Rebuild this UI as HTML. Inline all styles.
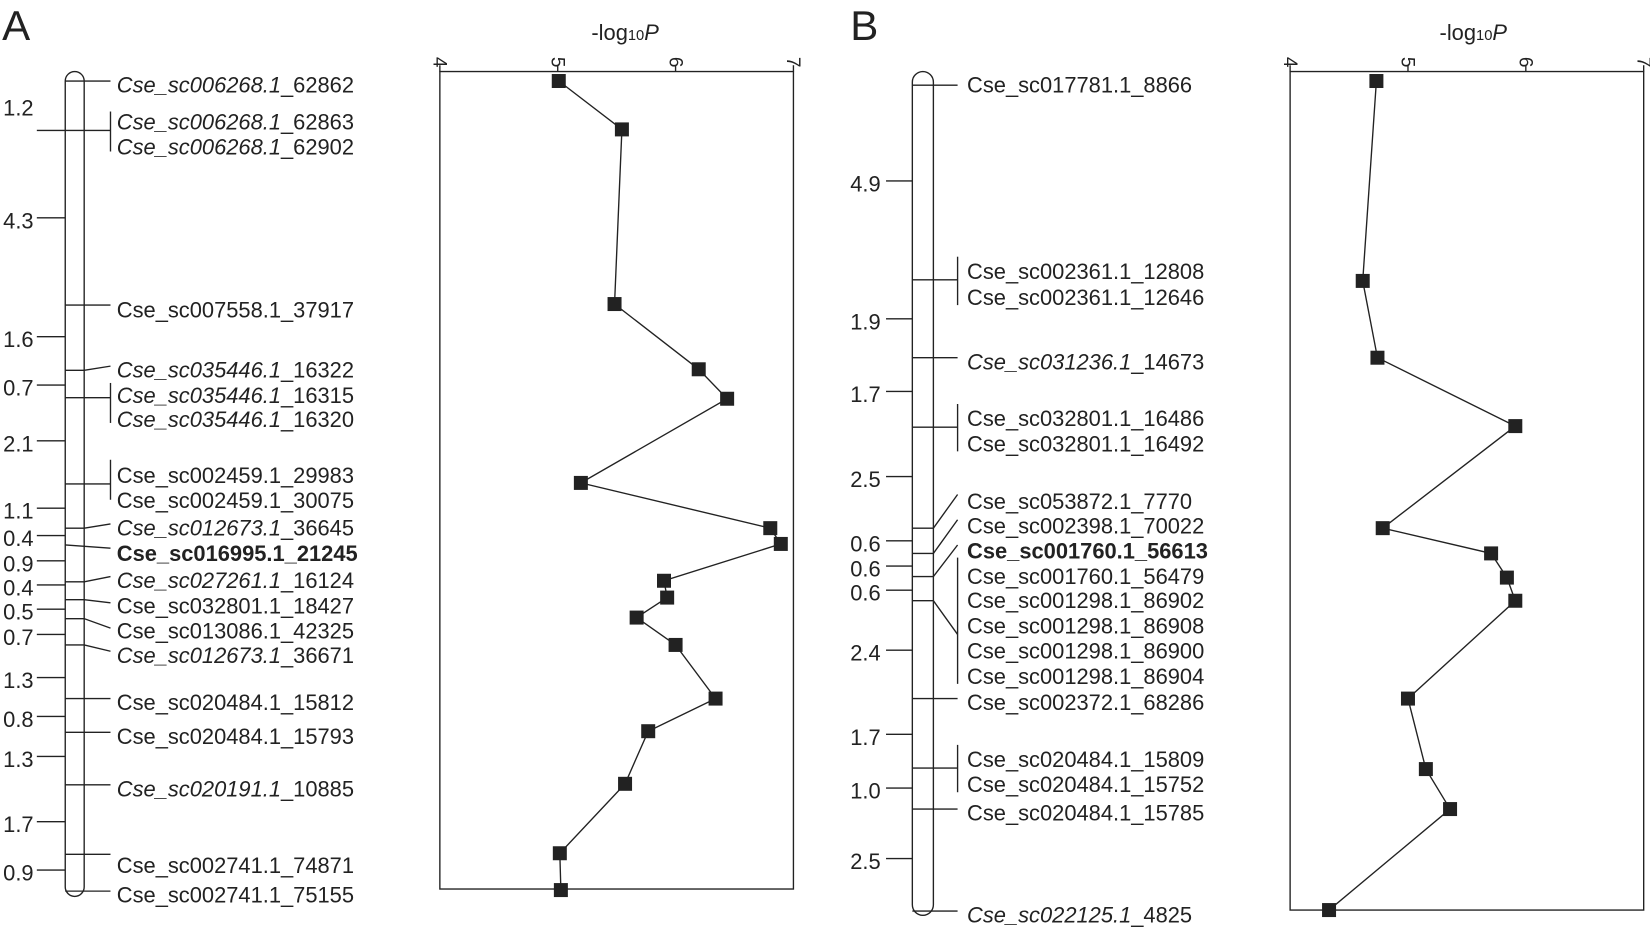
<!DOCTYPE html>
<html><head><meta charset="utf-8"><style>
html,body{margin:0;padding:0;background:#fff}
svg{display:block}
text{font-family:"Liberation Sans",sans-serif;font-size:20.8px;fill:#222}
.i{font-style:italic}
line,polyline,path,rect{stroke:#222;stroke-width:1.3;fill:none}
</style></head><body>
<svg width="1650" height="929" viewBox="0 0 1568 883" preserveAspectRatio="none" xmlns="http://www.w3.org/2000/svg">
<text x="2" y="38" style="font-size:40px">A</text>
<rect x="62" y="68" width="18" height="784" rx="9"/>
<g>
<line x1="35" y1="124" x2="62" y2="124"/><text x="3" y="110">1.2</text>
<line x1="35" y1="207" x2="62" y2="207"/><text x="3" y="217">4.3</text>
<line x1="35" y1="320" x2="62" y2="320"/><text x="3" y="330">1.6</text>
<line x1="35" y1="366" x2="62" y2="366"/><text x="3" y="376">0.7</text>
<line x1="35" y1="419" x2="62" y2="419"/><text x="3" y="429">2.1</text>
<line x1="35" y1="483" x2="62" y2="483"/><text x="3" y="493">1.1</text>
<line x1="35" y1="509" x2="62" y2="509"/><text x="3" y="519">0.4</text>
<line x1="35" y1="533" x2="62" y2="533"/><text x="3" y="543">0.9</text>
<line x1="35" y1="556" x2="62" y2="556"/><text x="3" y="566">0.4</text>
<line x1="35" y1="579" x2="62" y2="579"/><text x="3" y="589">0.5</text>
<line x1="35" y1="603" x2="62" y2="603"/><text x="3" y="613">0.7</text>
<line x1="35" y1="644" x2="62" y2="644"/><text x="3" y="654">1.3</text>
<line x1="35" y1="681" x2="62" y2="681"/><text x="3" y="691">0.8</text>
<line x1="35" y1="719" x2="62" y2="719"/><text x="3" y="729">1.3</text>
<line x1="35" y1="781" x2="62" y2="781"/><text x="3" y="791">1.7</text>
<line x1="35" y1="827" x2="62" y2="827"/><text x="3" y="837">0.9</text>
</g>
<g>
<line x1="62" y1="77" x2="105" y2="77"/>
<line x1="62" y1="124" x2="105" y2="124"/><line x1="105" y1="106" x2="105" y2="144"/>
<line x1="62" y1="290" x2="105" y2="290"/>
<polyline points="62,352 80,352 105,348"/>
<line x1="62" y1="378" x2="105" y2="378"/><line x1="105" y1="364" x2="105" y2="402"/>
<line x1="62" y1="460" x2="105" y2="460"/><line x1="105" y1="437" x2="105" y2="475"/>
<polyline points="62,502 80,502 105,498"/>
<line x1="62" y1="518" x2="105" y2="521"/>
<polyline points="62,553 80,553 105,548"/>
<polyline points="62,570 80,570 105,573"/>
<polyline points="62,588 80,588 105,597"/>
<polyline points="62,613 80,613 105,619"/>
<line x1="62" y1="664" x2="105" y2="664"/>
<line x1="62" y1="696" x2="105" y2="696"/>
<line x1="62" y1="746" x2="105" y2="746"/>
<line x1="62" y1="812" x2="105" y2="812"/>
<line x1="62" y1="847" x2="105" y2="847"/>
</g>
<g>
<text x="111" y="88"><tspan class="i">Cse_sc006268.1</tspan>_62862</text>
<text x="111" y="123"><tspan class="i">Cse_sc006268.1</tspan>_62863</text>
<text x="111" y="147"><tspan class="i">Cse_sc006268.1</tspan>_62902</text>
<text x="111" y="302">Cse_sc007558.1_37917</text>
<text x="111" y="359"><tspan class="i">Cse_sc035446.1</tspan>_16322</text>
<text x="111" y="383"><tspan class="i">Cse_sc035446.1</tspan>_16315</text>
<text x="111" y="406"><tspan class="i">Cse_sc035446.1</tspan>_16320</text>
<text x="111" y="459">Cse_sc002459.1_29983</text>
<text x="111" y="483">Cse_sc002459.1_30075</text>
<text x="111" y="509"><tspan class="i">Cse_sc012673.1</tspan>_36645</text>
<text x="111" y="533" style="font-weight:bold">Cse_sc016995.1_21245</text>
<text x="111" y="559"><tspan class="i">Cse_sc027261.1</tspan>_16124</text>
<text x="111" y="583">Cse_sc032801.1_18427</text>
<text x="111" y="607">Cse_sc013086.1_42325</text>
<text x="111" y="630"><tspan class="i">Cse_sc012673.1</tspan>_36671</text>
<text x="111" y="675">Cse_sc020484.1_15812</text>
<text x="111" y="707">Cse_sc020484.1_15793</text>
<text x="111" y="757"><tspan class="i">Cse_sc020191.1</tspan>_10885</text>
<text x="111" y="830">Cse_sc002741.1_74871</text>
<text x="111" y="858">Cse_sc002741.1_75155</text>
</g>
<text x="562" y="38">-log<tspan style="font-size:14px">10</tspan><tspan class="i">P</tspan></text>
<rect x="418" y="68" width="336" height="777"/>
<g>
<line x1="418" y1="62" x2="418" y2="68"/><line x1="530" y1="62" x2="530" y2="68"/><line x1="642" y1="62" x2="642" y2="68"/><line x1="754" y1="62" x2="754" y2="68"/>
<text transform="translate(412,54) rotate(90)" style="font-size:18px">4</text>
<text transform="translate(524,54) rotate(90)" style="font-size:18px">5</text>
<text transform="translate(636,54) rotate(90)" style="font-size:18px">6</text>
<text transform="translate(748,54) rotate(90)" style="font-size:18px">7</text>
</g>
<polyline points="531,77 591,123 584,289 664,351 691,379 552,459 732,502 742,517 631,552 634,568 605,587 642,613 680,664 616,695 594,745 532,811 533,846"/>
<g>
<rect x="525" y="71" width="12" height="12" style="fill:#222"/><rect x="585" y="117" width="12" height="12" style="fill:#222"/><rect x="578" y="283" width="12" height="12" style="fill:#222"/><rect x="658" y="345" width="12" height="12" style="fill:#222"/><rect x="685" y="373" width="12" height="12" style="fill:#222"/><rect x="546" y="453" width="12" height="12" style="fill:#222"/><rect x="726" y="496" width="12" height="12" style="fill:#222"/><rect x="736" y="511" width="12" height="12" style="fill:#222"/><rect x="625" y="546" width="12" height="12" style="fill:#222"/><rect x="628" y="562" width="12" height="12" style="fill:#222"/><rect x="599" y="581" width="12" height="12" style="fill:#222"/><rect x="636" y="607" width="12" height="12" style="fill:#222"/><rect x="674" y="658" width="12" height="12" style="fill:#222"/><rect x="610" y="689" width="12" height="12" style="fill:#222"/><rect x="588" y="739" width="12" height="12" style="fill:#222"/><rect x="526" y="805" width="12" height="12" style="fill:#222"/><rect x="527" y="840" width="12" height="12" style="fill:#222"/>
</g>

<text x="808" y="38" style="font-size:40px">B</text>
<rect x="867" y="68" width="20" height="802" rx="10"/>
<g>
<line x1="842" y1="172" x2="867" y2="172"/><text x="808" y="182">4.9</text>
<line x1="842" y1="303" x2="867" y2="303"/><text x="808" y="313">1.9</text>
<line x1="842" y1="372" x2="867" y2="372"/><text x="808" y="382">1.7</text>
<line x1="842" y1="453" x2="867" y2="453"/><text x="808" y="463">2.5</text>
<line x1="842" y1="514" x2="867" y2="514"/><text x="808" y="524">0.6</text>
<line x1="842" y1="538" x2="867" y2="538"/><text x="808" y="548">0.6</text>
<line x1="842" y1="561" x2="867" y2="561"/><text x="808" y="571">0.6</text>
<line x1="842" y1="618" x2="867" y2="618"/><text x="808" y="628">2.4</text>
<line x1="842" y1="698" x2="867" y2="698"/><text x="808" y="708">1.7</text>
<line x1="842" y1="749" x2="867" y2="749"/><text x="808" y="759">1.0</text>
<line x1="842" y1="816" x2="867" y2="816"/><text x="808" y="826">2.5</text>
</g>
<g>
<line x1="867" y1="81" x2="910" y2="81"/>
<line x1="867" y1="266" x2="910" y2="266"/><line x1="910" y1="244" x2="910" y2="290"/>
<line x1="867" y1="340" x2="910" y2="340"/>
<line x1="867" y1="406" x2="910" y2="406"/><line x1="910" y1="384" x2="910" y2="429"/>
<polyline points="867,502 887,502 910,470"/>
<polyline points="867,526 887,526 910,494"/>
<polyline points="867,548 887,548 910,518"/>
<polyline points="867,571 887,571 910,603"/><line x1="910" y1="530" x2="910" y2="650"/>
<line x1="867" y1="664" x2="910" y2="664"/>
<line x1="867" y1="730" x2="910" y2="730"/><line x1="910" y1="708" x2="910" y2="753"/>
<line x1="867" y1="769" x2="910" y2="769"/>
<line x1="867" y1="866" x2="910" y2="866"/>
</g>
<g>
<text x="919" y="88">Cse_sc017781.1_8866</text>
<text x="919" y="265">Cse_sc002361.1_12808</text>
<text x="919" y="290">Cse_sc002361.1_12646</text>
<text x="919" y="351"><tspan class="i">Cse_sc031236.1</tspan>_14673</text>
<text x="919" y="405">Cse_sc032801.1_16486</text>
<text x="919" y="429">Cse_sc032801.1_16492</text>
<text x="919" y="484">Cse_sc053872.1_7770</text>
<text x="919" y="507">Cse_sc002398.1_70022</text>
<text x="919" y="531" style="font-weight:bold">Cse_sc001760.1_56613</text>
<text x="919" y="555">Cse_sc001760.1_56479</text>
<text x="919" y="578">Cse_sc001298.1_86902</text>
<text x="919" y="602">Cse_sc001298.1_86908</text>
<text x="919" y="626">Cse_sc001298.1_86900</text>
<text x="919" y="650">Cse_sc001298.1_86904</text>
<text x="919" y="675">Cse_sc002372.1_68286</text>
<text x="919" y="729">Cse_sc020484.1_15809</text>
<text x="919" y="753">Cse_sc020484.1_15752</text>
<text x="919" y="780">Cse_sc020484.1_15785</text>
<text x="919" y="877"><tspan class="i">Cse_sc022125.1</tspan>_4825</text>
</g>
<text x="1368" y="38">-log<tspan style="font-size:14px">10</tspan><tspan class="i">P</tspan></text>
<rect x="1226" y="68" width="336" height="797"/>
<g>
<line x1="1226" y1="62" x2="1226" y2="68"/><line x1="1338" y1="62" x2="1338" y2="68"/><line x1="1450" y1="62" x2="1450" y2="68"/><line x1="1562" y1="62" x2="1562" y2="68"/>
<text transform="translate(1220,54) rotate(90)" style="font-size:18px">4</text>
<text transform="translate(1332,54) rotate(90)" style="font-size:18px">5</text>
<text transform="translate(1444,54) rotate(90)" style="font-size:18px">6</text>
<text transform="translate(1556,54) rotate(90)" style="font-size:18px">7</text>
</g>
<polyline points="1308,77 1295,267 1309,340 1440,405 1314,502 1417,526 1432,549 1440,571 1338,664 1355,731 1378,769 1263,865"/>
<g>
<rect x="1302" y="71" width="12" height="12" style="fill:#222"/><rect x="1289" y="261" width="12" height="12" style="fill:#222"/><rect x="1303" y="334" width="12" height="12" style="fill:#222"/><rect x="1434" y="399" width="12" height="12" style="fill:#222"/><rect x="1308" y="496" width="12" height="12" style="fill:#222"/><rect x="1411" y="520" width="12" height="12" style="fill:#222"/><rect x="1426" y="543" width="12" height="12" style="fill:#222"/><rect x="1434" y="565" width="12" height="12" style="fill:#222"/><rect x="1332" y="658" width="12" height="12" style="fill:#222"/><rect x="1349" y="725" width="12" height="12" style="fill:#222"/><rect x="1372" y="763" width="12" height="12" style="fill:#222"/><rect x="1257" y="859" width="12" height="12" style="fill:#222"/>
</g>
</svg>
</body></html>
